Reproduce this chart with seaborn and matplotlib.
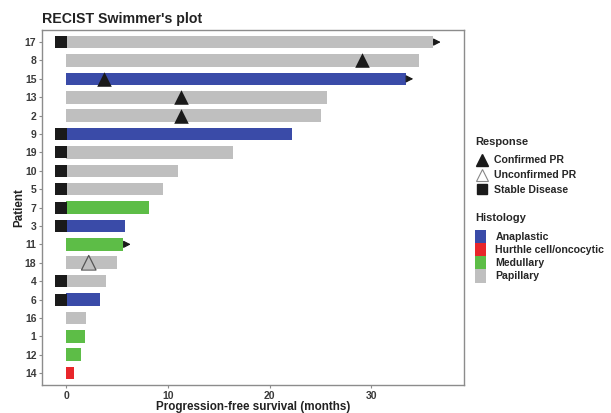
import matplotlib
matplotlib.use("Agg")
import matplotlib.pyplot as plt
from matplotlib.lines import Line2D
from matplotlib.patches import Patch
import seaborn as sns
import pandas as pd

# Patients, top to bottom
patients = ["17", "8", "15", "13", "2", "9", "19", "10", "5", "7",
            "3", "11", "18", "4", "6", "16", "1", "12", "14"]
# Progression-free survival (months)
pfs = [36.1, 34.7, 33.4, 25.6, 25.1, 22.2, 16.4, 11.0, 9.5, 8.1,
       5.8, 5.6, 5.0, 3.9, 3.3, 1.9, 1.8, 1.4, 0.8]
histology = ["Papillary", "Papillary", "Anaplastic", "Papillary", "Papillary",
             "Anaplastic", "Papillary", "Papillary", "Papillary", "Medullary",
             "Anaplastic", "Medullary", "Papillary", "Papillary", "Anaplastic",
             "Papillary", "Medullary", "Medullary", "Hurthle cell/oncocytic"]

# Response events
confirmed_pr_patients = ["8", "15", "13", "2"]
confirmed_pr_times = [29.1, 3.7, 11.3, 11.3]
unconfirmed_pr_patients = ["18"]
unconfirmed_pr_times = [2.2]
stable_patients = ["17", "9", "19", "10", "5", "7", "3", "4", "6"]
stable_time = -0.55
ongoing_patients = ["17", "15", "11"]

hist_order = ["Anaplastic", "Hurthle cell/oncocytic", "Medullary", "Papillary"]
hist_colors = {"Anaplastic": "#3A4BA8", "Hurthle cell/oncocytic": "#E8262B",
               "Medullary": "#5DBD47", "Papillary": "#BFBFBF"}

sns.set_theme(style="white")
plt.rcParams["font.family"] = ["Liberation Sans", "DejaVu Sans"]

df = pd.DataFrame({"patient": patients, "pfs": pfs, "histology": histology})
row = {p: i for i, p in enumerate(patients)}

fig = plt.figure(figsize=(6.11, 4.13), dpi=100)
ax = fig.add_axes([0.0687, 0.0678, 0.6903, 0.8592])

sns.barplot(data=df, x="pfs", y="patient", hue="histology", order=patients,
            hue_order=hist_order, palette=hist_colors, dodge=False,
            width=0.68, orient="h", legend=False, ax=ax, linewidth=0,
            saturation=1)

# Stable disease squares at the start of the bar
sns.scatterplot(x=[stable_time] * len(stable_patients),
                y=[row[p] for p in stable_patients], marker="s", s=72,
                color="#1a1a1a", linewidth=0, ax=ax, zorder=4)
# Confirmed partial responses
sns.scatterplot(x=confirmed_pr_times, y=[row[p] for p in confirmed_pr_patients],
                marker="^", s=110, color="#1a1a1a", linewidth=0, ax=ax, zorder=4)
# Unconfirmed partial responses
sns.scatterplot(x=unconfirmed_pr_times,
                y=[row[p] for p in unconfirmed_pr_patients], marker="^", s=110,
                facecolor="none", edgecolor="#555555", linewidth=0.9, ax=ax,
                zorder=4)

# Ongoing response arrows
for p in ongoing_patients:
    end = pfs[row[p]]
    ax.annotate("", xy=(end + 1.0, row[p]), xytext=(end + 0.15, row[p]),
                arrowprops=dict(arrowstyle="-|>,head_length=0.35,head_width=0.18",
                                color="#1a1a1a", lw=0.8), zorder=5)

ax.set_xlim(-2.4, 39.1)
ax.set_ylim(18.65, -0.65)
ax.set_xticks([0, 10, 20, 30])
ax.set_yticks(range(len(patients)))
ax.set_yticklabels(patients)
ax.tick_params(axis="both", bottom=True, left=True, labelsize=7.5,
               length=2.5, width=0.8, pad=1.5, color="#8c8c8c")
for lab in ax.get_yticklabels() + ax.get_xticklabels():
    lab.set_fontweight("bold")
    lab.set_color("#3a3a3a")
for s in ax.spines.values():
    s.set_color("#8c8c8c")
    s.set_linewidth(1.0)

ax.set_xlabel("Progression-free survival (months)", fontsize=8.4,
              fontweight="bold", labelpad=0.5, color="#222222")
ax.set_ylabel("Patient", fontsize=8.4, fontweight="bold", labelpad=0,
              color="#222222")
fig.text(0.0687, 0.954, "RECIST Swimmer's plot", fontsize=10.2,
         fontweight="bold", ha="left", va="center", color="#222222")

# Legends
resp_handles = [
    Line2D([], [], marker="^", color="#1a1a1a", linestyle="none", markersize=8.5),
    Line2D([], [], marker="^", markerfacecolor="none", markeredgecolor="#888888",
           linestyle="none", markersize=8.5, markeredgewidth=0.8),
    Line2D([], [], marker="s", color="#1a1a1a", linestyle="none", markersize=7),
]
resp_labels = ["Confirmed PR", "Unconfirmed PR", "Stable Disease"]
leg1 = fig.legend(resp_handles, resp_labels, title="Response",
                  loc="upper left", bbox_to_anchor=(0.778, 0.668),
                  frameon=False, fontsize=7.6, title_fontsize=8,
                  handlelength=1.3, handletextpad=0.5, labelspacing=0.45,
                  borderaxespad=0, borderpad=0, alignment="left")
leg1.get_title().set_fontweight("bold")
leg1._legend_box.sep = 6
for t in leg1.get_texts():
    t.set_fontweight("bold")

hist_handles = [Patch(facecolor=hist_colors[h], edgecolor="none") for h in hist_order]
hist_labels = ["Anaplastic", "Hurthle cell/oncocytic", "Medullary", "Papillary"]
leg2 = fig.legend(hist_handles, hist_labels, title="Histology",
                  loc="upper left", bbox_to_anchor=(0.778, 0.485),
                  frameon=False, fontsize=7.6, title_fontsize=8,
                  handlelength=1.0, handleheight=1.55, handletextpad=0.9,
                  labelspacing=0.0, borderaxespad=0, borderpad=0,
                  alignment="left")
leg2.get_title().set_fontweight("bold")
leg2._legend_box.sep = 5
for t in leg2.get_texts():
    t.set_fontweight("bold")

fig.savefig("out.png", dpi=100)
